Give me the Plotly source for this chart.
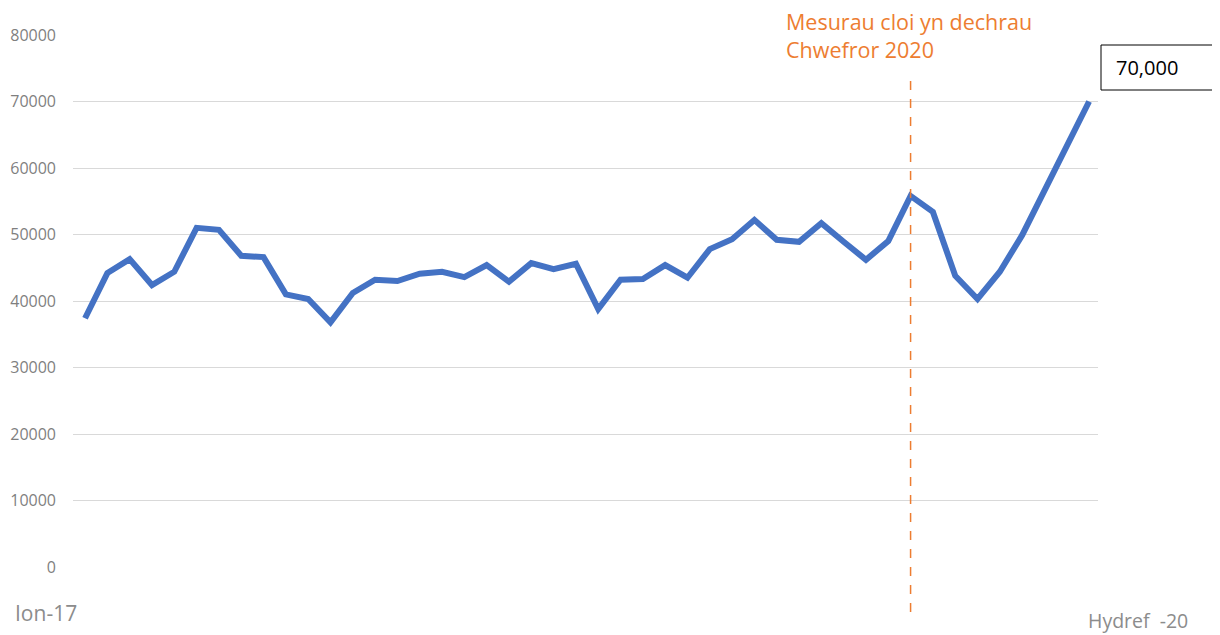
import plotly.graph_objects as go

# Monthly values, Jan 2017 (Ion-17) to Oct 2020 (Hydref-20)
months = ["2017-01", "2017-02", "2017-03", "2017-04", "2017-05", "2017-06", "2017-07", "2017-08",
          "2017-09", "2017-10", "2017-11", "2017-12", "2018-01", "2018-02", "2018-03", "2018-04",
          "2018-05", "2018-06", "2018-07", "2018-08", "2018-09", "2018-10", "2018-11", "2018-12",
          "2019-01", "2019-02", "2019-03", "2019-04", "2019-05", "2019-06", "2019-07", "2019-08",
          "2019-09", "2019-10", "2019-11", "2019-12", "2020-01", "2020-02", "2020-03", "2020-04",
          "2020-05", "2020-06", "2020-07", "2020-08", "2020-09", "2020-10"]
values = [37400, 44200, 46300, 42400, 44400, 51000, 50700, 46800, 46600, 41000, 40300, 36800,
          41200, 43200, 43000, 44100, 44400, 43600, 45400, 42900, 45700, 44800, 45600, 38800,
          43200, 43300, 45400, 43500, 47800, 49300, 52200, 49200, 48900, 51700, 48900, 46200,
          49000, 55800, 53400, 43800, 40300, 44400, 49900, 56700, 63500, 70000]
y_ticks = [0, 10000, 20000, 30000, 40000, 50000, 60000, 70000, 80000]
first_label = "Ion-17"
last_label = "Hydref\u00a0 -20"
lockdown_month = "2020-02"
lockdown_text = "Mesurau cloi yn dechrau<br>Chwefror 2020"
end_label = "70,000"

x_idx = list(range(len(months)))
lock_idx = months.index(lockdown_month)

# The page body has an 8px margin; work in page pixels and convert.
OFF = 8
W, H = 1220 - OFF, 635 - OFF
L, T = 73 - OFF, 35 - OFF          # plot area left/top in figure coords
R = W - (1098 - OFF)               # plot area right edge at page x=1098
B = H - (567 - OFF)                # plot area bottom at page y=567
PW, PH = W - L - R, H - T - B


def px(x):
    return (x - OFF - L) / PW


def py(y):
    return (H - B - (y - OFF)) / PH


fig = go.Figure()
fig.add_trace(go.Scatter(
    x=x_idx, y=values, mode="lines",
    line=dict(color="#4472C4", width=6, shape="linear"),
    hoverinfo="y", showlegend=False,
))

fig.update_layout(
    width=W, height=H,
    paper_bgcolor="white", plot_bgcolor="white",
    margin=dict(l=L, r=R, t=T, b=B, pad=0, autoexpand=False),
    font=dict(family="Open Sans, Calibri, sans-serif", color="#7f7f7f"),
    xaxis=dict(range=[-0.54, len(months) - 0.6], showgrid=False, showticklabels=False,
               zeroline=False, showline=False, fixedrange=True, automargin=False),
    yaxis=dict(range=[0, 80000], tickvals=y_ticks, ticktext=[str(v) for v in y_ticks],
               showgrid=True, gridcolor="#d9d9d9", gridwidth=1, zeroline=False,
               showline=False, ticks="", tickfont=dict(size=16, color="#7f7f7f"),
               ticklabelstandoff=16, automargin=False),
)

# Dashed lockdown line
fig.add_shape(type="line", xref="x", yref="paper", x0=lock_idx, x1=lock_idx,
              y0=py(612), y1=py(77), line=dict(color="#ED7D31", width=1.5, dash="dash"))

# Lockdown annotation
fig.add_annotation(xref="paper", yref="paper", x=px(784), y=py(5), text=lockdown_text,
                   showarrow=False, xanchor="left", yanchor="top", align="left",
                   font=dict(size=21.5, color="#ED7D31"))

# Axis end labels
fig.add_annotation(xref="paper", yref="paper", x=px(13), y=py(613),
                   text=first_label, showarrow=False, xanchor="left", yanchor="middle",
                   font=dict(size=21, color="#8c8c8c"))
fig.add_annotation(xref="paper", yref="paper", x=px(1190), y=py(620),
                   text=last_label, showarrow=False, xanchor="right", yanchor="middle",
                   font=dict(size=19.5, color="#8c8c8c"))

# Boxed value label
fig.add_shape(type="rect", xref="paper", yref="paper",
              x0=px(1101), x1=px(1230), y0=py(90), y1=py(45),
              line=dict(color="black", width=1), fillcolor="white")
fig.add_annotation(xref="paper", yref="paper", x=px(1114), y=py(68),
                   text=end_label, showarrow=False, xanchor="left", yanchor="middle",
                   font=dict(size=20, color="black"))

fig.write_html("out.html")
